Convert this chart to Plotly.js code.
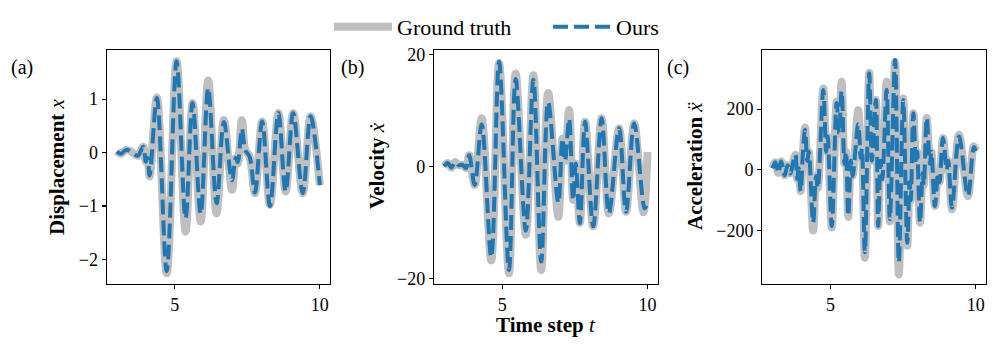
<!DOCTYPE html>
<html><head><meta charset="utf-8">
<script src="https://cdn.plot.ly/plotly-3.0.1.min.js"></script>
<style>html,body{margin:0;padding:0;background:#fff;}#chart{width:996px;height:345px;}</style>
</head><body><div id="chart"></div>
<script>
// ---------- data ----------
// (a) displacement x
const tA_truth = [3.0,3.14,3.32,3.49,3.72,3.91,4.0,4.06,4.13,4.38,4.72,5.06,5.37,5.61,5.89,6.15,6.44,6.69,6.97,7.1,7.17,7.31,7.43,7.58,7.76,8.01,8.28,8.57,8.82,9.08,9.41,9.68,10.0];
const xA_truth = [0.02,-0.02,0.05,0.02,-0.06,0.11,-0.17,-0.10,-0.45,1.03,-2.26,1.71,-1.48,0.93,-1.29,1.35,-1.14,0.61,-0.70,-0.10,-0.20,0.61,0.05,-0.08,-0.76,0.58,-0.98,0.74,-0.73,0.74,-0.76,0.68,-0.61];
const tA_ours  = [3.0,3.14,3.32,3.49,3.72,3.91,4.0,4.06,4.13,4.38,4.72,5.06,5.37,5.61,5.89,6.15,6.44,6.69,6.97,7.1,7.17,7.31,7.43,7.58,7.76,8.01,8.28,8.57,8.82,9.08,9.41,9.68,10.0];
const xA_ours  = [0.02,-0.02,0.05,0.02,-0.06,0.11,-0.17,-0.10,-0.43,1.02,-2.22,1.71,-1.23,0.93,-1.15,1.21,-0.95,0.57,-0.52,-0.10,-0.18,0.45,0.05,-0.08,-0.75,0.58,-1.00,0.74,-0.73,0.74,-0.76,0.68,-0.61];

// (b) velocity
const tB_truth = [3.0,3.12,3.25,3.38,3.5,3.62,3.75,3.86,4.05,4.29,4.62,4.89,5.23,5.46,5.81,6.07,6.34,6.58,6.93,7.07,7.16,7.30,7.44,7.53,7.67,7.85,8.13,8.42,8.67,9.02,9.26,9.54,9.86,10.0];
const vB_truth = [0.0,0.6,-0.2,0.8,0.2,0.3,-0.3,2.0,-3.3,8.6,-16.8,18.5,-19.1,16.6,-12.2,16.3,-18.5,13.1,-9.0,5.0,1.0,10.1,-6.0,0.5,-10.1,8.0,-10.7,8.6,-8.4,6.8,-8.1,7.7,-8.2,2.6];
const tB_ours  = [3.0,3.12,3.25,3.38,3.5,3.62,3.75,3.86,4.05,4.29,4.62,4.89,5.23,5.46,5.81,6.07,6.34,6.58,6.93,7.07,7.16,7.30,7.44,7.53,7.67,7.85,8.13,8.42,8.67,9.02,9.26,9.54,9.9,9.96];
const vB_ours  = [0.0,0.6,-0.2,0.8,0.2,0.3,-0.3,2.0,-3.3,7.5,-16.2,18.7,-18.5,15.6,-11.5,15.5,-17.0,11.5,-6.5,5.0,1.0,8.5,-6.0,0.5,-10.1,8.0,-10.7,8.6,-8.4,6.8,-8.1,7.7,-7.5,-7.0];

// (c) acceleration
const tC_truth = [3.0,3.1,3.2,3.3,3.42,3.52,3.62,3.7,3.79,3.85,3.9,3.97,4.05,4.12,4.2,4.25,4.40,4.5,4.56,4.75,4.85,4.9,5.04,5.21,5.29,5.38,5.48,5.53,5.61,5.7,5.76,5.95,6.04,6.08,6.18,6.33,6.42,6.47,6.56,6.64,6.72,6.78,6.93,7.04,7.22,7.35,7.5,7.64,7.72,7.76,7.85,7.94,7.98,8.08,8.17,8.21,8.31,8.42,8.47,8.59,8.7,8.75,8.87,9.0,9.05,9.18,9.42,9.73,9.93,10.0];
const aC_truth = [5,25,-10,28,-18,15,-12,20,50,-30,5,-70,60,140,30,60,-200,-20,-60,268,60,110,-190,225,120,290,20,60,-155,30,-20,197,40,70,-290,320,30,90,230,-185,30,-30,290,-170,356,-345,235,-250,-40,-100,187,20,60,-174,-10,-50,171,20,60,-119,-10,-40,105,0,30,-130,116,-87,78,65];
const tC_ours  = [3.0,3.1,3.2,3.3,3.42,3.52,3.62,3.7,3.79,3.85,3.9,3.97,4.05,4.12,4.2,4.25,4.40,4.5,4.56,4.75,4.85,4.9,5.04,5.21,5.29,5.38,5.48,5.53,5.61,5.7,5.76,5.95,6.04,6.08,6.18,6.33,6.42,6.47,6.56,6.64,6.72,6.78,6.93,7.04,7.22,7.35,7.5,7.64,7.72,7.76,7.85,7.94,7.98,8.08,8.17,8.21,8.31,8.42,8.47,8.59,8.7,8.75,8.87,9.0,9.05,9.18,9.42,9.73,9.93,10.0];
const aC_ours  = [5,25,-10,28,-18,15,-12,20,50,-30,5,-70,60,132,30,60,-174,-20,-60,263,60,110,-185,220,120,260,20,60,-152,30,-20,150,40,70,-272,318,30,90,230,-185,30,-30,264,-163,362,-305,230,-240,-40,-100,187,20,60,-174,-10,-50,171,20,60,-119,-10,-40,105,0,30,-125,110,-85,75,62];

const tickA = [-2,-1,0,1], tickB = [-20,0,20], tickC = [-200,0,200], tickT = [5,10];
const seriesNames = ['Ground truth','Ours'];

// ---------- style / layout ----------
const W = 996, H = 345;
const GRAY = '#bfbfbf', BLUE = '#1f77b4';
const FONT = 'Liberation Serif, Times New Roman, serif';
const yTop = 1 - 50/H, yBot = 1 - 284/H;
const dom = [[106.7/W, 330/W],[434/W, 657.7/W],[762.3/W, 986/W]];

function pair(t1,y1,t2,y2,ax,show){
  const sfx = ax===1 ? '' : ax;
  return [
    {x:t1,y:y1,type:'scatter',mode:'lines',name:seriesNames[0],showlegend:show,legendgroup:'g',
     xaxis:'x'+sfx,yaxis:'y'+sfx,line:{color:GRAY,width:8,shape:'spline',smoothing:1},hoverinfo:'skip'},
    {x:t2,y:y2,type:'scatter',mode:'lines',name:seriesNames[1],showlegend:show,legendgroup:'o',
     xaxis:'x'+sfx,yaxis:'y'+sfx,line:{color:BLUE,width:4,dash:'15px,6px',shape:'spline',smoothing:1},hoverinfo:'skip'}
  ];
}
const data = [
  ...pair(tA_truth,xA_truth,tA_ours,xA_ours,1,true),
  ...pair(tB_truth,vB_truth,tB_ours,vB_ours,2,false),
  ...pair(tC_truth,aC_truth,tC_ours,aC_ours,3,false)
];

function xax(i){
  return {domain:dom[i],range:[2.65,10.35],tickvals:tickT,ticktext:tickT.map(String),
    showline:true,mirror:true,linecolor:'#000',linewidth:1.2,ticks:'outside',ticklen:4,tickwidth:1.1,tickcolor:'#000',
    showgrid:false,zeroline:false,tickfont:{family:FONT,size:18,color:'#000'},
    anchor: i===0?'y':'y'+(i+1)};
}
function yax(i,range,tv){
  return {domain:[yBot,yTop],range:range,tickvals:tv,ticktext:tv.map(v=>v<0?'\u2212'+Math.abs(v):String(v)),
    showline:true,mirror:true,linecolor:'#000',linewidth:1.2,ticks:'outside',ticklen:4,tickwidth:1.1,tickcolor:'#000',
    showgrid:false,zeroline:false,tickfont:{family:FONT,size:18,color:'#000'},
    anchor: i===0?'x':'x'+(i+1)};
}
const ann = (text,x,y,size,angle)=>({text:text,x:x/W,y:1-y/H,xref:'paper',yref:'paper',showarrow:false,
  xanchor:'center',yanchor:'middle',textangle:angle||0,font:{family:FONT,size:size,color:'#000'}});

const layout = {
  width:W,height:H,margin:{l:0,r:0,t:0,b:0},paper_bgcolor:'#fff',plot_bgcolor:'#fff',
  font:{family:FONT,color:'#000'},
  xaxis:xax(0),yaxis:yax(0,[-2.46,1.92],tickA),
  xaxis2:xax(1),yaxis2:yax(1,[-21,20.8],tickB),
  xaxis3:xax(2),yaxis3:yax(2,[-376,395],tickC),
  showlegend:true,
  legend:{orientation:'h',x:329/W,xanchor:'left',y:1-27/H,yanchor:'middle',font:{family:FONT,size:22,color:'#000'},
    bgcolor:'rgba(0,0,0,0)',itemwidth:58,entrywidth:146,traceorder:'normal'},
  annotations:[
    ann('(a)',22,67,20),ann('(b)',352,67,20),ann('(c)',678,67,20),
    ann('<b>Displacement</b> <i>x</i>',57,167,21,-90),
    ann('<b>Velocity</b> <i>ẋ</i>',377,166,21,-90),
    ann('<b>Acceleration</b> <i>ẍ</i>',695,166,21,-90),
    ann('<b>Time step</b> <i>t</i>',546,325,21)
  ]
};
Plotly.newPlot('chart',data,layout,{displayModeBar:false,staticPlot:true});
</script></body></html>
